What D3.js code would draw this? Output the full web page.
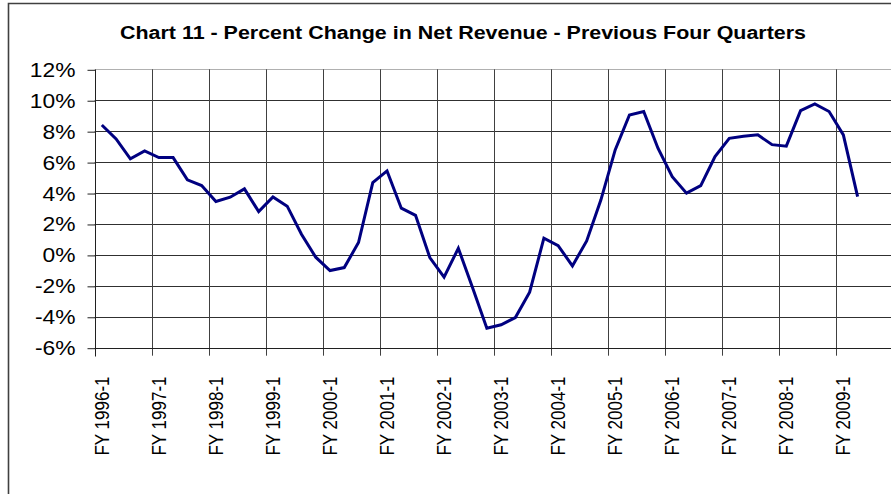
<!DOCTYPE html>
<html>
<head>
<meta charset="utf-8">
<script src="https://cdn.jsdelivr.net/npm/d3@7"></script>
<style>
  html, body { margin: 0; padding: 0; background: #fff; }
  svg { display: block; }
  text { font-family: "Liberation Sans", Arial, sans-serif; fill: #000; }
</style>
</head>
<body>
<svg id="chart" width="891" height="494"></svg>
<script>
// ---- data ----
const titleText = "Chart 11 - Percent Change in Net Revenue - Previous Four Quarters";
const years = d3.range(1996, 2010);
const quarters = years.flatMap(y => [1, 2, 3, 4].map(q => `FY ${y}-${q}`));
const tickLabels = years.map(y => `FY ${y}-1`);
const yTicks = [-6, -4, -2, 0, 2, 4, 6, 8, 10, 12];
const values = [
  8.40, 7.50, 6.21, 6.72,
  6.29, 6.29, 4.85, 4.48,
  3.45, 3.73, 4.27, 2.80,
  3.75, 3.15, 1.34, -0.15,
  -1.01, -0.82, 0.80, 4.67,
  5.43, 3.02, 2.56, -0.17,
  -1.44, 0.43, -2.13, -4.74,
  -4.52, -4.05, -2.41, 1.08,
  0.60, -0.71, 0.90, 3.56,
  6.79, 9.05, 9.27, 6.90,
  5.06, 3.99, 4.48, 6.36,
  7.54, 7.67, 7.76, 7.13,
  7.03, 9.33, 9.76, 9.27,
  7.76, 3.77
];

// ---- layout ----
const svg = d3.select("#chart");
const plotLeft = 94.7, plotTop = 69.3, plotBottom = 347.7;
const catW = 14.26;
const plotRight = plotLeft + quarters.length * catW;

const x = d3.scaleBand().domain(quarters).range([plotLeft, plotRight]).padding(0);
const xb = d3.scaleLinear().domain([0, quarters.length]).range([plotLeft, plotRight]);
const y = d3.scaleLinear().domain([-6, 12]).range([plotBottom, plotTop]);

// frame
svg.append("path")
  .attr("d", `M8.5,494 L8.5,3.5 L891,3.5`)
  .attr("fill", "none").attr("stroke", "#404040").attr("stroke-width", 1.6);

// title
svg.append("text")
  .attr("x", 463).attr("y", 38.5)
  .attr("text-anchor", "middle")
  .attr("font-weight", "bold")
  .attr("font-size", 18)
  .attr("textLength", 686).attr("lengthAdjust", "spacingAndGlyphs")
  .text(titleText);

// horizontal gridlines
svg.append("g").selectAll("line").data(yTicks).join("line")
  .attr("x1", plotLeft).attr("x2", plotRight)
  .attr("y1", d => Math.round(y(d)) + 0.5).attr("y2", d => Math.round(y(d)) + 0.5)
  .attr("stroke", d => d === 12 ? "#b0b0b0" : "#303030").attr("stroke-width", 1);

// vertical gridlines at category boundaries every 4 quarters
const vIdx = d3.range(4, quarters.length + 1, 4);
svg.append("g").selectAll("line").data(vIdx).join("line")
  .attr("x1", d => Math.round(xb(d)) + 0.5).attr("x2", d => Math.round(xb(d)) + 0.5)
  .attr("y1", plotTop).attr("y2", plotBottom + 8)
  .attr("stroke", "#404040").attr("stroke-width", 1);

// y axis
const yAxis = d3.axisLeft(y).tickValues(yTicks).tickFormat(d => d + "%").tickSize(8).tickPadding(0);
const gy = svg.append("g").attr("transform", `translate(${Math.round(plotLeft) + 0.5},0.5)`).call(yAxis);
gy.select(".domain").attr("stroke", "#202020").attr("d", `M0,${Math.round(plotTop)}V${Math.round(plotBottom)}`);
gy.selectAll(".tick line").attr("stroke", "#202020");
gy.selectAll(".tick text")
  .attr("x", null).attr("dy", null)
  .attr("font-size", 20)
  .attr("font-family", "Liberation Sans, Arial, sans-serif")
  .attr("text-anchor", "end")
  .attr("dominant-baseline", "central")
  .attr("transform", "translate(-20,0) scale(1.14,1)");

// x axis
const gx = svg.append("g").attr("transform", `translate(0,${Math.round(plotBottom) + 0.5})`);
gx.append("line").attr("x1", plotLeft).attr("x2", plotRight).attr("stroke", "#202020");
gx.selectAll("line.tk").data([0]).join("line").attr("class", "tk")
  .attr("x1", d => Math.round(xb(d)) + 0.5).attr("x2", d => Math.round(xb(d)) + 0.5)
  .attr("y1", 0).attr("y2", 8).attr("stroke", "#202020");
gx.selectAll("text").data(tickLabels).join("text")
  .attr("transform", d => `translate(${x(d) + x.bandwidth() / 2},28) rotate(-90) scale(1,1.22)`)
  .attr("text-anchor", "end")
  .attr("dominant-baseline", "central")
  .attr("font-size", 17)
  .text(d => d);

// line
const line = d3.line().x((d, i) => x(quarters[i]) + x.bandwidth() / 2).y(d => y(d));
svg.append("path").datum(values)
  .attr("d", line)
  .attr("fill", "none")
  .attr("stroke", "#000080")
  .attr("stroke-width", 3)
  .attr("stroke-linejoin", "miter");
</script>
</body>
</html>
